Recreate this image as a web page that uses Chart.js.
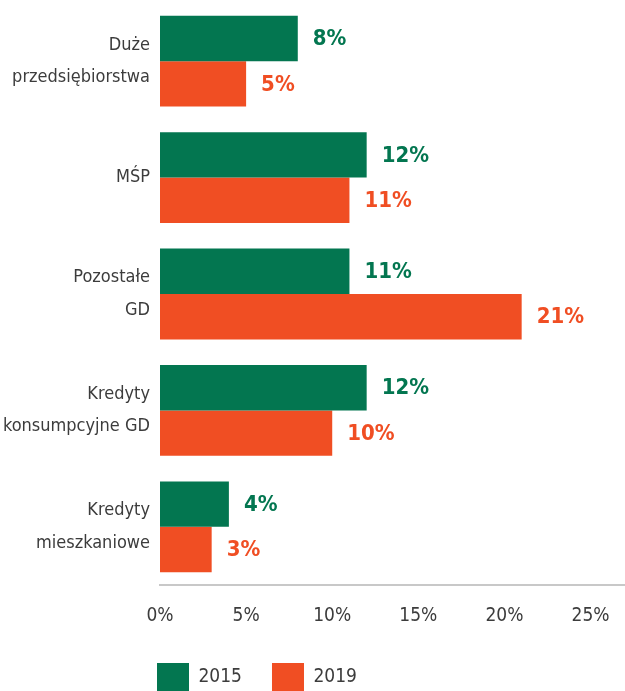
<!DOCTYPE html>
<html lang="pl">
<head>
<meta charset="utf-8">
<title>Kredyty 2015 / 2019</title>
<script src="https://cdn.jsdelivr.net/npm/chart.js@4.4.1/dist/chart.umd.min.js"></script>
<style>
    html, body { margin: 0; padding: 0; background: #fff; }
    #wrap { width: 625px; height: 691px; position: relative; }
</style>
</head>
<body>
<div id="wrap"><canvas id="kredytyChart"></canvas></div>
<script>
// Dane
const kategorie = [
    ['Duże', 'przedsiębiorstwa'],
    'MŚP',
    ['Pozostałe', 'GD'],
    ['Kredyty', 'konsumpcyjne GD'],
    ['Kredyty', 'mieszkaniowe']
];
const lata = ['2015', '2019'];
const wartosci2015 = [8, 12, 11, 12, 4];
const wartosci2019 = [5, 11, 21, 10, 3];
const osX = [0, 5, 10, 15, 20, 25];

const ZIELONY = '#037650';
const POMARANCZ = '#F04E23';
const SZARY = '#3c3c3c';
const FONT = "'Liberation Sans Narrow', 'DejaVu Sans Condensed', 'Liberation Sans', sans-serif";

// Etykiety wartości na końcu słupków
const etykietyPlugin = {
    id: 'etykiety',
    afterDatasetsDraw(chart) {
        const ctx = chart.ctx;
        ctx.save();
        ctx.font = 'bold 22px ' + FONT;
        ctx.textBaseline = 'middle';
        ctx.textAlign = 'left';
        chart.data.datasets.forEach((ds, i) => {
            chart.getDatasetMeta(i).data.forEach((bar, j) => {
                ctx.fillStyle = ds.backgroundColor;
                ctx.fillText(ds.data[j] + '%', bar.x + 15, bar.y + 1);
            });
        });
        ctx.restore();
    }
};

// Przesunięcie legendy pod słupki
const legendaPlugin = {
    id: 'legendaPoz',
    afterLayout(chart) {
        const lg = chart.legend;
        const pad = lg.options.labels.padding;
        lg.left = 157 - pad;
        lg.top = 663 - pad;
    }
};

new Chart(document.getElementById('kredytyChart').getContext('2d'), {
    type: 'bar',
    data: {
        labels: kategorie,
        datasets: [{
            label: lata[0],
            data: wartosci2015,
            backgroundColor: ZIELONY,
            categoryPercentage: 0.78,
            barPercentage: 1.0
        }, {
            label: lata[1],
            data: wartosci2019,
            backgroundColor: POMARANCZ,
            categoryPercentage: 0.78,
            barPercentage: 1.0
        }]
    },
    options: {
        indexAxis: 'y',
        responsive: true,
        maintainAspectRatio: false,
        animation: false,
        layout: { padding: { top: 3, right: 0, bottom: 0, left: 0 } },
        scales: {
            x: {
                min: 0,
                max: 27,
                grid: { display: false },
                border: { display: true, color: '#c8c8c8', width: 2 },
                afterBuildTicks(scale) {
                    scale.ticks = osX.map(v => ({ value: v }));
                },
                ticks: {
                    color: SZARY,
                    padding: 12,
                    font: { family: FONT, size: 19 },
                    callback: v => v + '%'
                },
                afterFit(scale) { scale.height = 38; }
            },
            y: {
                grid: { display: false, drawTicks: false },
                border: { display: false },
                ticks: {
                    color: SZARY,
                    padding: 10,
                    font: { family: FONT, size: 18, lineHeight: 1.8 }
                },
                afterFit(scale) {
                    scale.width = 160;
                    scale.paddingTop = 0;
                    scale.paddingBottom = 0;
                }
            }
        },
        plugins: {
            legend: {
                position: 'bottom',
                align: 'start',
                labels: {
                    color: SZARY,
                    boxWidth: 32,
                    boxHeight: 28,
                    padding: 30,
                    font: { family: FONT, size: 19 }
                }
            },
            tooltip: { enabled: false }
        }
    },
    plugins: [etykietyPlugin, legendaPlugin]
});
</script>
</body>
</html>
